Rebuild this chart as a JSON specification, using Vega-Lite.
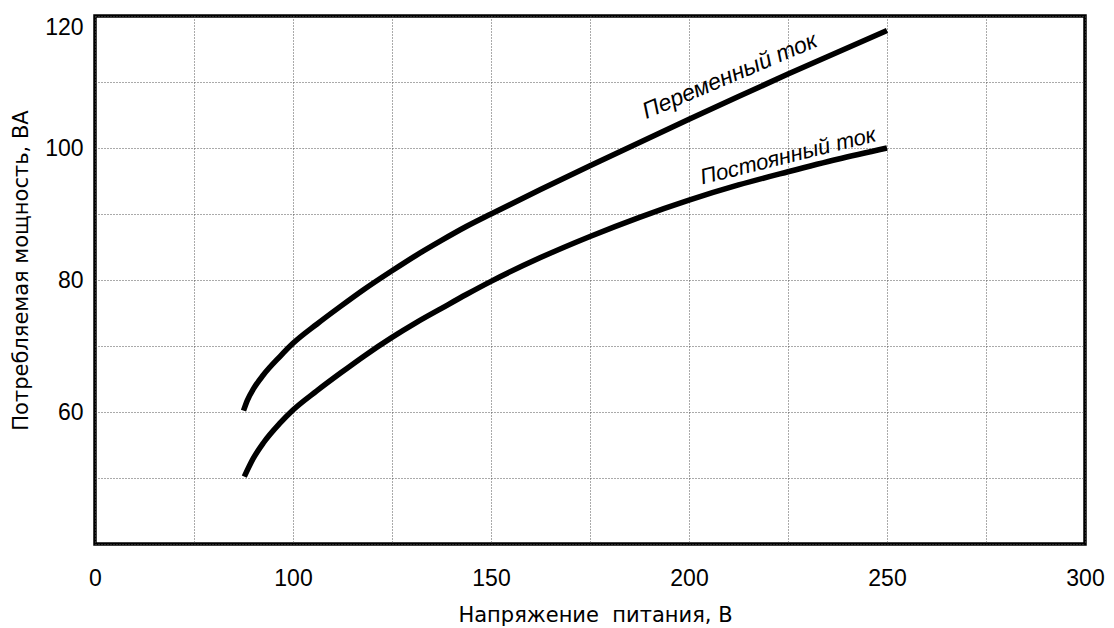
{
  "$schema": "https://vega.github.io/schema/vega-lite/v6.json",
  "width": 990,
  "height": 528,
  "autosize": "none",
  "padding": {"left": 95, "top": 16, "right": 29, "bottom": 84},
  "background": "white",
  "config": {
    "font": "Liberation Sans",
    "view": {"stroke": "black", "strokeWidth": 3.5},
    "axis": {
      "domain": false,
      "ticks": false,
      "grid": true,
      "gridColor": "#555555",
      "gridDash": [1, 2],
      "gridWidth": 1,
      "labelFont": "Liberation Sans",
      "labelFontSize": 23,
      "labelColor": "black",
      "titleFont": "DejaVu Sans",
      "titleFontSize": 21,
      "titleFontWeight": "normal",
      "titleColor": "black"
    }
  },
  "datasets": {
    "curves": [
      {"u": 87.5, "p": 60.2, "s": "Переменный ток"},
      {"u": 88.5, "p": 61.8, "s": "Переменный ток"},
      {"u": 90, "p": 63.5, "s": "Переменный ток"},
      {"u": 92.5, "p": 65.6, "s": "Переменный ток"},
      {"u": 96.7, "p": 68.4, "s": "Переменный ток"},
      {"u": 100, "p": 70.4, "s": "Переменный ток"},
      {"u": 106, "p": 73.3, "s": "Переменный ток"},
      {"u": 112, "p": 76.0, "s": "Переменный ток"},
      {"u": 118, "p": 78.6, "s": "Переменный ток"},
      {"u": 125, "p": 81.4, "s": "Переменный ток"},
      {"u": 131, "p": 83.7, "s": "Переменный ток"},
      {"u": 137.5, "p": 86.0, "s": "Переменный ток"},
      {"u": 143.75, "p": 88.1, "s": "Переменный ток"},
      {"u": 150, "p": 90.0, "s": "Переменный ток"},
      {"u": 162.5, "p": 93.7, "s": "Переменный ток"},
      {"u": 175, "p": 97.3, "s": "Переменный ток"},
      {"u": 187.5, "p": 100.85, "s": "Переменный ток"},
      {"u": 200, "p": 104.35, "s": "Переменный ток"},
      {"u": 212.5, "p": 107.8, "s": "Переменный ток"},
      {"u": 225, "p": 111.2, "s": "Переменный ток"},
      {"u": 237.5, "p": 114.5, "s": "Переменный ток"},
      {"u": 250, "p": 117.8, "s": "Переменный ток"},
      {"u": 87.7, "p": 50.2, "s": "Постоянный ток"},
      {"u": 90, "p": 53.0, "s": "Постоянный ток"},
      {"u": 92.5, "p": 55.3, "s": "Постоянный ток"},
      {"u": 96.7, "p": 58.3, "s": "Постоянный ток"},
      {"u": 100, "p": 60.3, "s": "Постоянный ток"},
      {"u": 106, "p": 63.2, "s": "Постоянный ток"},
      {"u": 112, "p": 65.9, "s": "Постоянный ток"},
      {"u": 118, "p": 68.5, "s": "Постоянный ток"},
      {"u": 125, "p": 71.3, "s": "Постоянный ток"},
      {"u": 131, "p": 73.5, "s": "Постоянный ток"},
      {"u": 137.5, "p": 75.7, "s": "Постоянный ток"},
      {"u": 143.75, "p": 77.8, "s": "Постоянный ток"},
      {"u": 150, "p": 79.8, "s": "Постоянный ток"},
      {"u": 162.5, "p": 83.4, "s": "Постоянный ток"},
      {"u": 175, "p": 86.6, "s": "Постоянный ток"},
      {"u": 187.5, "p": 89.5, "s": "Постоянный ток"},
      {"u": 200, "p": 92.1, "s": "Постоянный ток"},
      {"u": 212.5, "p": 94.4, "s": "Постоянный ток"},
      {"u": 225, "p": 96.4, "s": "Постоянный ток"},
      {"u": 237.5, "p": 98.3, "s": "Постоянный ток"},
      {"u": 250, "p": 100.0, "s": "Постоянный ток"}
    ]
  },
  "layer": [
    {
      "data": {"name": "curves"},
      "mark": {"type": "line", "color": "black", "strokeWidth": 5.5, "interpolate": "monotone", "clip": true},
      "encoding": {
        "x": {
          "field": "u", "type": "quantitative",
          "scale": {"domain": [50, 300], "nice": false, "zero": false},
          "axis": {
            "values": [50, 75, 100, 125, 150, 175, 200, 225, 250, 275, 300],
            "labelExpr": "datum.value == 50 ? '0' : (datum.value % 50 == 0 ? datum.label : '')",
            "labelPadding": 23,
            "labelFlush": false,
            "labelOverlap": false,
            "title": "Напряжение\u00a0 питания, В",
            "titleX": 500,
            "titleY": 77,
            "titleBaseline": "alphabetic",
            "titleAnchor": "middle"
          }
        },
        "y": {
          "field": "p", "type": "quantitative",
          "scale": {"domain": [40, 120], "nice": false, "zero": false},
          "axis": {
            "values": [40, 50, 60, 70, 80, 90, 100, 110, 120],
            "labelExpr": "datum.value % 20 == 0 && datum.value > 40 ? datum.label : ''",
            "labelPadding": 12,
            "labelFlush": true,
            "labelOverlap": false,
            "title": "Потребляемая мощность, ВА",
            "titleX": -68,
            "titleY": 254,
            "titleBaseline": "alphabetic",
            "titleAnchor": "middle"
          }
        },
        "detail": {"field": "s", "type": "nominal"}
      }
    },
    {
      "data": {"values": [{"u": 210.3, "p": 110.9, "t": "Переменный ток"}]},
      "mark": {"type": "text", "angle": -23, "fontSize": 23, "fontStyle": "italic", "font": "Liberation Sans", "color": "black", "align": "center", "baseline": "middle"},
      "encoding": {
        "x": {"field": "u", "type": "quantitative"},
        "y": {"field": "p", "type": "quantitative"},
        "text": {"field": "t"}
      }
    },
    {
      "data": {"values": [{"u": 225, "p": 98.8, "t": "Постоянный ток"}]},
      "mark": {"type": "text", "angle": -14, "fontSize": 22, "fontStyle": "italic", "font": "Liberation Sans", "color": "black", "align": "center", "baseline": "middle"},
      "encoding": {
        "x": {"field": "u", "type": "quantitative"},
        "y": {"field": "p", "type": "quantitative"},
        "text": {"field": "t"}
      }
    }
  ]
}
